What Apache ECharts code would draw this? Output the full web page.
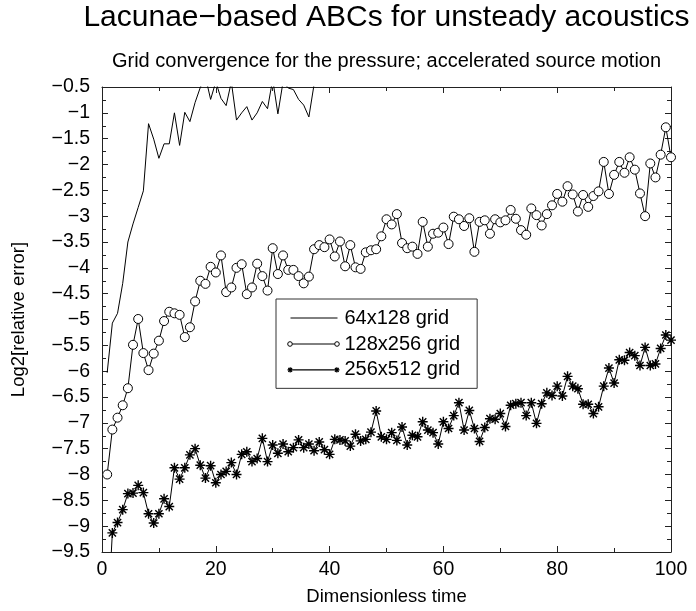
<!DOCTYPE html>
<html>
<head>
<meta charset="utf-8">
<script src="https://cdn.jsdelivr.net/npm/echarts@6/dist/echarts.min.js"></script>
<style>
  html, body { margin: 0; padding: 0; background: #fff; }
  #chart { width: 696px; height: 611px; }
</style>
</head>
<body>
<div id="chart"></div>
<script>
// Dimensionless time of each sample (110 samples up to t = 100)
const times = [
  0.91, 1.82, 2.73, 3.64, 4.55, 5.45, 6.36, 7.27, 8.18, 9.09, 10,
  10.91, 11.82, 12.73, 13.64, 14.55, 15.45, 16.36, 17.27, 18.18, 19.09, 20,
  20.91, 21.82, 22.73, 23.64, 24.55, 25.45, 26.36, 27.27, 28.18, 29.09, 30,
  30.91, 31.82, 32.73, 33.64, 34.55, 35.45, 36.36, 37.27, 38.18, 39.09, 40,
  40.91, 41.82, 42.73, 43.64, 44.55, 45.45, 46.36, 47.27, 48.18, 49.09, 50,
  50.91, 51.82, 52.73, 53.64, 54.55, 55.45, 56.36, 57.27, 58.18, 59.09, 60,
  60.91, 61.82, 62.73, 63.64, 64.55, 65.45, 66.36, 67.27, 68.18, 69.09, 70,
  70.91, 71.82, 72.73, 73.64, 74.55, 75.45, 76.36, 77.27, 78.18, 79.09, 80,
  80.91, 81.82, 82.73, 83.64, 84.55, 85.45, 86.36, 87.27, 88.18, 89.09, 90,
  90.91, 91.82, 92.73, 93.64, 94.55, 95.45, 96.36, 97.27, 98.18, 99.09, 100
];

// 64x128 grid (leaves the plot through the top after t ~ 37)
const grid64 = [
  -6.03, -5.07, -4.88, -4.30, -3.50, -3.15, -2.83, -2.51, -1.21, -1.51, -1.88,
  -1.60, -1.60, -1.00, -1.63, -0.99, -1.17, -0.80, -0.51, -0.30, -0.74, -0.40,
  -0.72, -0.86, -0.40, -1.14, -1.00, -0.88, -1.14, -1.00, -0.78, -0.92, -0.35,
  -1.02, -0.40, -0.52, -0.55, -0.74, -0.85, -1.08, -0.45, -0.20
];

// 128x256 grid
const grid128 = [
  -8.00, -7.13, -6.90, -6.66, -6.33, -5.49, -4.99, -5.65, -5.98, -5.66, -5.41,
  -5.03, -4.85, -4.88, -4.91, -5.34, -5.15, -4.65, -4.25, -4.31, -3.98, -4.09,
  -3.76, -4.47, -4.38, -4.00, -3.93, -4.51, -4.38, -3.92, -4.16, -4.44, -3.62,
  -4.12, -3.76, -4.04, -4.04, -4.16, -4.30, -4.17, -3.64, -3.56, -3.60, -3.45,
  -3.78, -3.49, -3.97, -3.56, -3.99, -4.02, -3.70, -3.66, -3.64, -3.39, -3.06,
  -3.16, -2.96, -3.52, -3.62, -3.59, -3.73, -3.11, -3.59, -3.34, -3.32, -3.22,
  -3.54, -3.01, -3.06, -3.19, -3.04, -3.69, -3.11, -3.08, -3.34, -3.06, -3.12,
  -3.08, -2.88, -3.05, -3.27, -3.36, -2.85, -2.98, -3.18, -2.96, -2.79, -2.57,
  -2.72, -2.42, -2.58, -2.91, -2.59, -2.82, -2.61, -2.52, -1.95, -2.57, -2.20,
  -1.95, -2.16, -1.86, -2.10, -2.56, -3.00, -1.98, -2.25, -1.81, -1.28, -1.86
];

// 256x512 grid (first sample lies below the plotted range)
const grid256 = [
  -11.0, -9.13, -8.93, -8.68, -8.37, -8.36, -8.21, -8.35, -8.76, -8.94, -8.76,
  -8.47, -8.62, -7.87, -8.09, -7.87, -7.62, -7.50, -7.82, -8.07, -7.83, -8.16,
  -8.00, -7.94, -7.77, -8.00, -7.61, -7.56, -7.75, -7.69, -7.30, -7.75, -7.43,
  -7.59, -7.41, -7.56, -7.48, -7.33, -7.48, -7.41, -7.54, -7.37, -7.52, -7.61,
  -7.32, -7.33, -7.35, -7.45, -7.22, -7.35, -7.32, -7.18, -6.77, -7.27, -7.32,
  -7.19, -7.34, -7.08, -7.43, -7.24, -7.27, -6.98, -7.14, -7.19, -7.41, -6.98,
  -7.11, -6.86, -6.61, -7.14, -6.76, -7.11, -7.36, -7.09, -6.92, -6.93, -6.82,
  -7.07, -6.66, -6.63, -6.61, -6.86, -6.61, -7.01, -6.63, -6.42, -6.47, -6.29,
  -6.48, -6.10, -6.29, -6.34, -6.64, -6.64, -6.82, -6.69, -6.29, -5.94, -6.23,
  -5.78, -5.79, -5.64, -5.70, -5.89, -5.54, -5.89, -5.86, -5.56, -5.30, -5.40
];

const seriesNames = ['64x128 grid', '128x256 grid', '256x512 grid'];
const xTicks = { min: 0, max: 100, interval: 20 };
const yTicks = { min: -9.5, max: -0.5, interval: 0.5 };

const titleText = 'Lacunae\u2212based ABCs for unsteady acoustics';
const subtitleText = 'Grid convergence for the pressure; accelerated source motion';
const xName = 'Dimensionless time';
const yName = 'Log2[relative error]';

const FONT = '"Liberation Sans", Arial, Helvetica, sans-serif';
const AX = '#222';

function pairs(vals) { return vals.map((v, i) => [times[i], v]); }
function minusFmt(v) {
  const r = Math.round(v * 100) / 100;
  return (r < 0 ? '\u2212' : '') + Math.abs(r);
}

const starPath = 'path://M0,-5L0,5M-5,0L5,0M-3.6,-3.6L3.6,3.6M-3.6,3.6L3.6,-3.6';

function axisCommon(extra) {
  return Object.assign({
    type: 'value',
    axisLine: { show: true, onZero: false, lineStyle: { color: AX, width: 1 } },
    axisTick: { show: true, inside: true, length: 6, lineStyle: { color: AX, width: 1 } },
    minorTick: { show: true, splitNumber: 2, length: 4, lineStyle: { color: AX, width: 1 } },
    splitLine: { show: false },
    minorSplitLine: { show: false }
  }, extra);
}

const chart = echarts.init(document.getElementById('chart'), null, { renderer: 'canvas' });

const option = {
  animation: false,
  backgroundColor: '#fff',
  textStyle: { fontFamily: FONT, color: '#000' },
  title: [
    { text: titleText, left: 386.5, top: 3, textAlign: 'center', padding: 0,
      textStyle: { fontFamily: FONT, fontSize: 30, fontWeight: 'normal', color: '#000' } },
    { text: subtitleText, left: 386.5, top: 51, textAlign: 'center', padding: 0,
      textStyle: { fontFamily: FONT, fontSize: 20, fontWeight: 'normal', color: '#000' } }
  ],
  grid: { left: 102, top: 87, width: 569, height: 468, show: false },
  xAxis: [
    axisCommon({
      position: 'bottom', min: xTicks.min, max: xTicks.max, interval: xTicks.interval,
      name: xName, nameLocation: 'middle', nameGap: 35,
      nameTextStyle: { fontFamily: FONT, fontSize: 18.5, color: '#000' },
      axisLabel: { show: true, fontFamily: FONT, fontSize: 19.5, color: '#000', margin: 8 }
    }),
    axisCommon({
      position: 'top', min: xTicks.min, max: xTicks.max, interval: xTicks.interval,
      axisLabel: { show: false }
    })
  ],
  yAxis: [
    axisCommon({
      position: 'left', min: yTicks.min, max: yTicks.max, interval: yTicks.interval,
      name: yName, nameLocation: 'middle', nameGap: 74,
      nameTextStyle: { fontFamily: FONT, fontSize: 18.5, color: '#000' },
      axisLabel: { show: true, fontFamily: FONT, fontSize: 19.5, color: '#000', margin: 12, formatter: minusFmt }
    }),
    axisCommon({
      position: 'right', min: yTicks.min, max: yTicks.max, interval: yTicks.interval,
      axisLabel: { show: false }
    })
  ],
  legend: {
    orient: 'vertical', left: 276, top: 299, padding: [6.5, 17, 6, 9],
    itemGap: 1, itemWidth: 52, itemHeight: 20,
    borderColor: '#333', borderWidth: 1, backgroundColor: '#fff',
    textStyle: { fontFamily: FONT, fontSize: 20, color: '#000' },
    selectedMode: false,
    data: [
      { name: seriesNames[0],
        icon: 'path://M0,0M52,20M3,10L50,10',
        itemStyle: { color: 'none', borderColor: '#000', borderWidth: 1 } },
      { name: seriesNames[1],
        icon: 'path://M0,0M52,20M0.2,10A2.3,2.3,0,1,1,4.8,10A2.3,2.3,0,1,1,0.2,10M4.8,10L47.2,10M47.2,10A2.3,2.3,0,1,1,51.8,10A2.3,2.3,0,1,1,47.2,10',
        itemStyle: { color: 'none', borderColor: '#000', borderWidth: 1 } },
      { name: seriesNames[2],
        icon: 'path://M0,0M52,20M2.5,10L49.5,10M2.5,7.3L2.5,12.7M-0.2,10L5.2,10M0.6,8.1L4.4,11.9M0.6,11.9L4.4,8.1M49.5,7.3L49.5,12.7M46.8,10L52.2,10M47.6,8.1L51.4,11.9M47.6,11.9L51.4,8.1',
        itemStyle: { color: 'none', borderColor: '#000', borderWidth: 1.2 } }
    ]
  },
  series: [
    { name: seriesNames[0], type: 'line', data: pairs(grid64), symbol: 'none', showSymbol: false,
      clip: true, lineStyle: { color: '#000', width: 1 }, itemStyle: { color: '#000' }, z: 3 },
    { name: seriesNames[1], type: 'line', data: pairs(grid128), symbol: 'circle', symbolSize: 9,
      showAllSymbol: true, clip: true, lineStyle: { color: '#000', width: 1 },
      itemStyle: { color: '#fff', borderColor: '#000', borderWidth: 1 }, z: 3 },
    { name: seriesNames[2], type: 'line', data: pairs(grid256), symbol: starPath, symbolSize: 10,
      showAllSymbol: true, clip: true, lineStyle: { color: '#000', width: 1 },
      itemStyle: { color: '#000', borderColor: '#000', borderWidth: 1.4 }, z: 3 }
  ]
};

chart.setOption(option);
</script>
</body>
</html>
